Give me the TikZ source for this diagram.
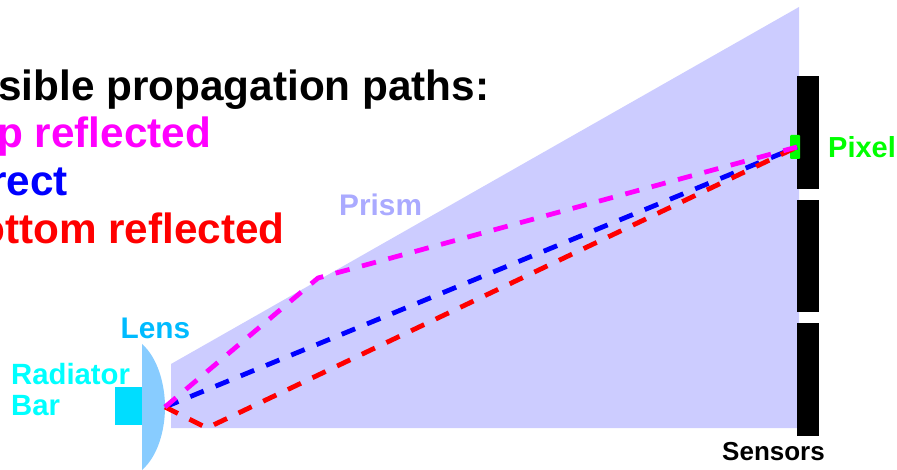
\documentclass[tikz,border=0pt]{standalone}
\usepackage{fontspec}
\setmainfont{Liberation Sans}
\definecolor{prismfill}{HTML}{CCCCFF}
\definecolor{prismtext}{HTML}{AAAAFF}
\definecolor{lensfill}{HTML}{88CCFF}
\definecolor{lenstext}{HTML}{00BBFF}
\definecolor{barfill}{HTML}{00DDFF}
\definecolor{pathtop}{HTML}{FF00FF}
\definecolor{pathmid}{HTML}{0000FF}
\definecolor{pathlow}{HTML}{FF0000}
\definecolor{labelcyan}{HTML}{00FFFF}
\definecolor{pixelgreen}{HTML}{00FF00}
\tikzset{
  lbl/.style={inner sep=0pt,anchor=base west,font=\bfseries\fontsize{#1}{#1}\selectfont},
  ray/.style={line width=4.8pt,dash pattern=on 14.5pt off 12.8pt,line join=round},
  sensor/.style={fill=black,draw=none},
}
\begin{document}
\begin{tikzpicture}[x=1pt,y=-1pt]
\useasboundingbox (0,0) rectangle (897,470);
\clip (0,0) rectangle (897,470);
\fill[prismfill] (171,364) -- (799,7) -- (799,428) -- (171,428) -- cycle;
\fill[sensor] (797,76) rectangle (819,189);
\fill[sensor] (797,200) rectangle (819,312);
\fill[sensor] (797,323) rectangle (819,436);
\fill[pixelgreen,rounded corners=1pt] (790,135) rectangle (800,159);
\fill[barfill] (115,387) rectangle (142,425);
\fill[lensfill] (142,344) .. controls (158,358) and (165,385) .. (165,407) .. controls (165,430) and (158,456) .. (142,470) -- cycle;
\coordinate (focus) at (165,407);
\coordinate (top) at (318,278);
\coordinate (bottom) at (207,428);
\coordinate (pix) at (797,147);
\draw[ray,pathmid] (focus) -- (pix);
\draw[ray,pathlow] (focus) -- (bottom) -- (pix);
\draw[ray,pathtop] (focus) -- (top) -- (pix);
\node[lbl=42.3,black] (title) at (-2,101) {sible propagation paths:};
\node[lbl=42.3,pathtop] (t1) at (-3,148) {p reflected};
\node[lbl=42.3,pathmid] (t2) at (-10,196) {rect};
\node[lbl=42.3,pathlow] (t3) at (-21,244) {ottom reflected};
\node[lbl=29.8,prismtext] (prism) at (339,216) {Prism};
\node[lbl=29.8,lenstext] (lens) at (120.5,338.5) {Lens};
\node[lbl=29.3,labelcyan] (rad) at (11,384) {Radiator};
\node[lbl=29.3,labelcyan] (bar) at (11,415) {Bar};
\node[lbl=29,pixelgreen] (pixel) at (828,158) {Pixel};
\node[lbl=26,black] (sensors) at (722,460) {Sensors};
\end{tikzpicture}
\end{document}
